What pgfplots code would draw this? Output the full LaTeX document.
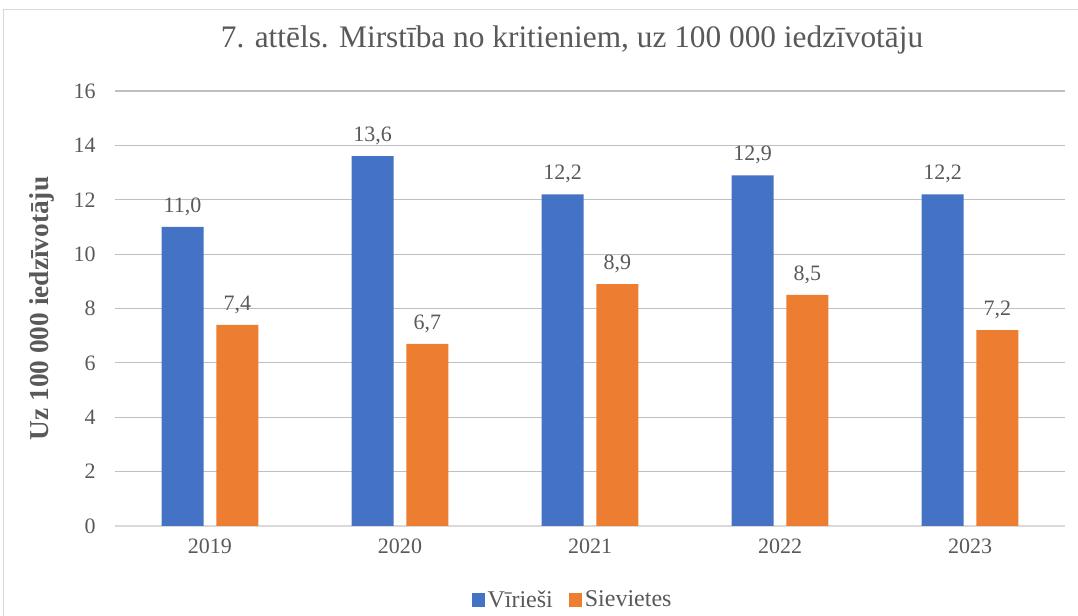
\documentclass[border=0pt]{standalone}
\usepackage{pgfplots}
\pgfplotsset{compat=1.18}
\usepackage{fontspec}
\setmainfont{Liberation Serif}
\definecolor{txt}{HTML}{595959}
\definecolor{grid}{HTML}{D9D9D9}
\definecolor{cblue}{HTML}{4472C4}
\definecolor{corange}{HTML}{ED7D31}
\begin{document}
\begin{tikzpicture}[x=0.75pt,y=0.75pt]
% page bounding box in px (origin = axis lower-left at px (115,526))
\path[use as bounding box] (-115,-90) rectangle (963,526);
\draw[grid,line width=0.75pt] (-111,-90) -- (-111,516) -- (963,516);
\begin{axis}[
  at={(0,0)}, anchor=south west,
  scale only axis, width=712.5pt, height=326.25pt,
  xmin=-0.5, xmax=4.5, ymin=0, ymax=16,
  ytick={0,2,...,16},
  xtick=data, xticklabels={2019,2020,2021,2022,2023},
  axis line style={draw=none},
  axis x line*=bottom,
  x axis line style={draw=grid, line width=0.9pt},
  major tick length=0pt,
  xtick style={draw=none}, ytick style={draw=none},
  xmajorgrids=false,
  ymajorgrids, grid style={grid, line width=0.9pt},
  tick label style={font=\fontsize{16.5}{18}\selectfont, text=txt},
  /pgf/number format/assume math mode=true,
  ylabel={\textbf{Uz 100 000 iedzīvotāju}},
  ylabel style={font=\fontsize{20.5}{22}\selectfont, text=txt, at={(axis description cs:-0.0768,0.5)}, anchor=center},
  yticklabel style={xshift=-11pt},
  xticklabel style={yshift=-6pt},
  ybar, bar width=31.5pt,
  nodes near coords,
  nodes near coords style={font=\fontsize{16.5}{18}\selectfont, text=txt, yshift=5pt,
    /pgf/number format/.cd, fixed, fixed zerofill, precision=1, use comma},
  legend style={at={(0.482,-0.17)}, anchor=center, draw=none, legend columns=2,
    font=\fontsize{18}{20}\selectfont, text=txt, /tikz/every even column/.append style={column sep=10pt}},
  legend image code/.code={\fill[#1] (0pt,-5pt) rectangle (10pt,5pt);},
  clip=false,
]
\addplot[fill=cblue, draw=none, bar shift=-20.6pt] coordinates {(0,11.0) (1,13.6) (2,12.2) (3,12.9) (4,12.2)};
\addplot[fill=corange, draw=none, bar shift=20.6pt] coordinates {(0,7.4) (1,6.7) (2,8.9) (3,8.5) (4,7.2)};
\legend{Vīrieši, Sievietes}
\end{axis}
\node[text=txt, font=\fontsize{23.5}{26}\selectfont] at (457,486) {7. attēls. Mirstība no kritieniem, uz 100 000 iedzīvotāju};
\end{tikzpicture}
\end{document}
